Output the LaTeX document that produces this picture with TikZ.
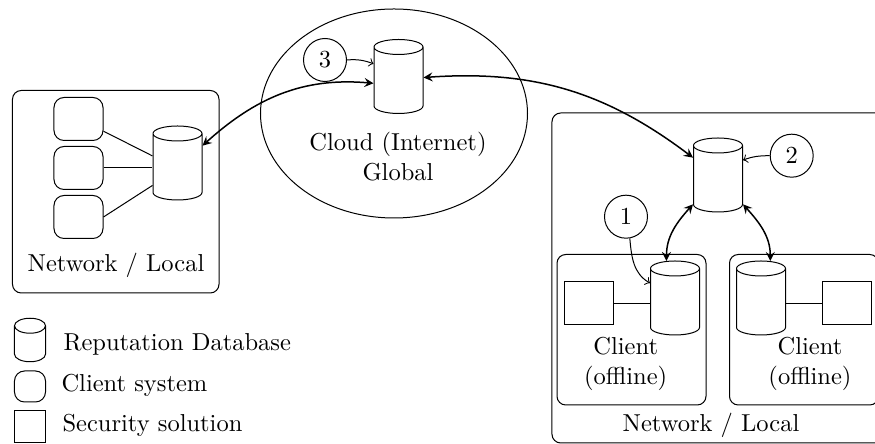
\documentclass[tikz,border=0pt]{standalone}
\usepackage{tikz}
\usetikzlibrary{shapes.geometric}

\tikzset{
    every node/.style={font=\fontsize{9.8pt}{12pt}\selectfont},
    dbnode/.style={draw, cylinder, shape border rotate=90, shape aspect=0.9, anchor=shape center, minimum width=19.6pt, minimum height=29.6pt},
    clientnode/.style={draw, rectangle, rounded corners=4pt, minimum width=19.6pt, minimum height=17.2pt, inner sep=0pt},
    secnode/.style={draw, rectangle, minimum width=19.6pt, minimum height=17.4pt, inner sep=0pt},
    boxnode/.style={draw, rectangle, rounded corners=3.5pt, inner sep=0pt},
    numnode/.style={draw, circle, minimum size=17.2pt, inner sep=0pt},
    syncarrow/.style={<->, >=stealth, semithick}
}

\begin{document}
\begin{tikzpicture}[x=0.4pt, y=-0.4pt]
    \useasboundingbox (0,0) rectangle (875,444);
    % outer shapes
    \node[draw, ellipse, minimum width=106.8pt, minimum height=83.6pt, inner sep=0pt] (cloud) at (394,113.5) {};
    \node[boxnode, minimum width=82.6pt, minimum height=81pt] (netleft) at (115.75,191.75) {};
    \node[boxnode, minimum width=200pt, minimum height=132pt] (netright) at (802,278) {};
    \node[boxnode, minimum width=59.6pt, minimum height=60.2pt] (offleft) at (631.5,329.75) {};
    \node[boxnode, minimum width=59.6pt, minimum height=60.2pt] (offright) at (804,329.75) {};

    % databases
    \node[dbnode] (clouddb) at (398.5,76.5) {};
    \node[dbnode] (leftdb) at (177.5,163) {};
    \node[dbnode] (rightdb) at (718,175) {};
    \node[dbnode] (offdba) at (675,298) {};
    \node[dbnode] (offdbb) at (761,298) {};

    % clients and security solutions
    \node[clientnode] (clienta) at (78.5,119) {};
    \node[clientnode] (clientb) at (78.5,168) {};
    \node[clientnode] (clientc) at (78.5,217) {};
    \node[secnode] (seca) at (589,303.25) {};
    \node[secnode] (secb) at (847,303.25) {};

    \draw (clienta.-26) -- (leftdb.151);
    \draw (clientb.east) -- (clientb.east -| leftdb.west);
    \draw (clientc.east) -- (leftdb.212);
    \draw (seca.east) -- (seca.east -| offdba.west);
    \draw (secb.west) -- (secb.west -| offdbb.east);

    % numbered markers
    \node[numnode] (numa) at (626,216.7) {1};
    \node[numnode] (numb) at (791.7,155.7) {2};
    \node[numnode] (numc) at (325,60) {3};
    \draw[->] (numa.-80) to[out=-85, in=150] (offdba.139);
    \draw[->] (numb.west) to[out=180, in=20] (rightdb.41);
    \draw[->] (numc.east) to[out=5, in=160] (clouddb.142);

    % links
    \draw[syncarrow] (clouddb.180) to[out=175, in=42] (leftdb.44);
    \draw[syncarrow] (clouddb.13) to[out=4, in=143] (rightdb.136);
    \draw[syncarrow] (offdba.101) to[out=90, in=228] (rightdb.222);
    \draw[syncarrow] (offdbb.78) to[out=90, in=-48] (rightdb.318);

    % labels
    \node[align=center] (cloudtext) at (398,157) {Cloud (Internet)\\Global};
    \node (netlefttext) at (116,265) {Network / Local};
    \node (netrighttext) at (711,425) {Network / Local};
    \node[align=center] (offlefttext) at (625.7,364) {Client\\(offline)};
    \node[align=center] (offrighttext) at (810,364) {Client\\(offline)};

    % legend
    \node[dbnode, minimum width=12.4pt, minimum height=17.4pt] (legdb) at (30,340) {};
    \node[clientnode, minimum width=12.4pt, minimum height=12.4pt] (legclient) at (30,386.5) {};
    \node[secnode, minimum width=12.4pt, minimum height=12.8pt] (legsec) at (30,427) {};
    \node[anchor=west, inner sep=0pt] (legdbtext) at (63,344) {Reputation Database};
    \node[anchor=west, inner sep=0pt] (legclienttext) at (61,385) {Client system};
    \node[anchor=west, inner sep=0pt] (legsectext) at (62,425) {Security solution};
\end{tikzpicture}
\end{document}
